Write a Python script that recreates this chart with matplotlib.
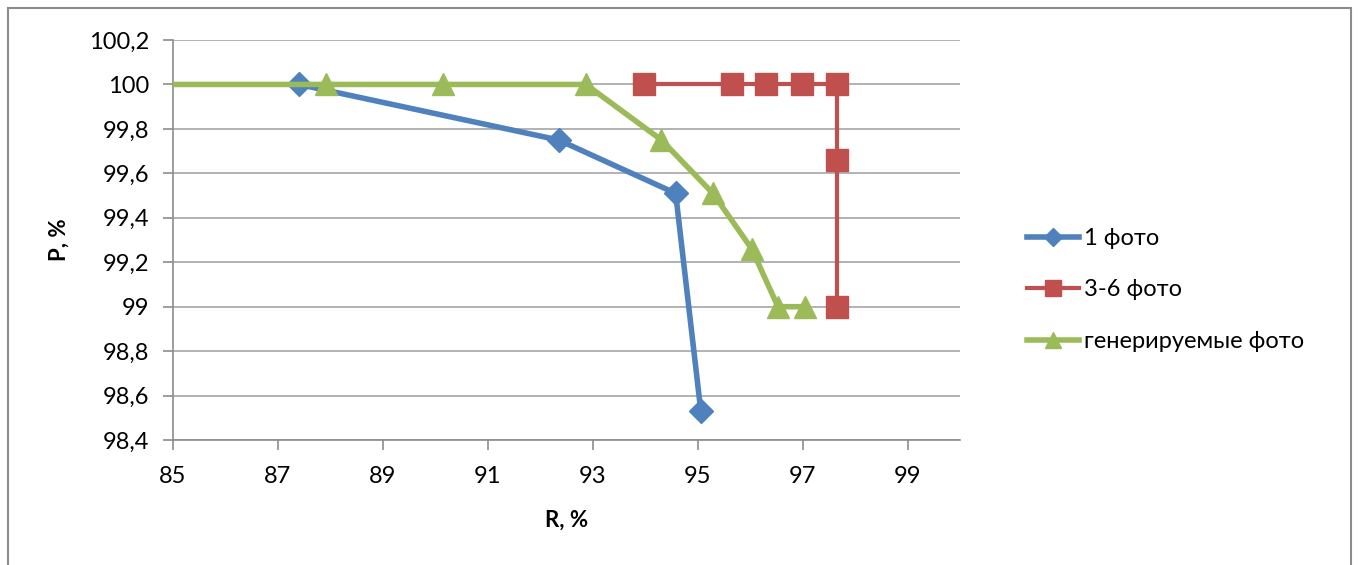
import matplotlib.pyplot as plt
from matplotlib.patches import Rectangle
from matplotlib.ticker import FuncFormatter, MultipleLocator

plt.rcParams['font.family'] = ['Lato', 'DejaVu Sans']

# 1 фото
r_one = [87.4, 92.35, 94.58, 95.06]
p_one = [100.0, 99.75, 99.51, 98.53]

# 3-6 фото
r_multi = [93.97, 95.65, 96.31, 96.98, 97.66, 97.66, 97.66]
p_multi = [100.0, 100.0, 100.0, 100.0, 100.0, 99.66, 99.0]

# генерируемые фото (первая точка левее оси, линия обрезается)
r_gen = [84.0, 87.91, 90.14, 92.87, 94.31, 95.29, 96.03, 96.53, 97.04]
p_gen = [100.0, 100.0, 100.0, 100.0, 99.75, 99.51, 99.26, 99.0, 99.0]

labels = ['1 фото', '3-6 фото', 'генерируемые фото']
x_ticks = [85, 87, 89, 91, 93, 95, 97, 99]

W, H = 1358, 565
fig = plt.figure(figsize=(W / 100, H / 100), dpi=100)
ax = fig.add_axes([173 / W, 1 - 440 / H, (960 - 173) / W, 400 / H])

# рамка вокруг всей диаграммы
fig.patches.append(Rectangle((8 / W, -0.05), (1351 - 8) / W, 1.05 - 8 / H,
                             transform=fig.transFigure, fill=False,
                             edgecolor='#8c8c8c', linewidth=1.5))

ax.plot(r_one, p_one, color='#4F81BD', lw=4, marker='D', ms=12,
        label=labels[0], zorder=3)
ax.plot(r_multi, p_multi, color='#C0504D', lw=3, marker='s', ms=16,
        label=labels[1], zorder=3)
ax.plot(r_gen, p_gen, color='#9BBB59', lw=4, marker='^', ms=16,
        label=labels[2], zorder=3)

ax.set_xlim(85, 100)
ax.set_ylim(98.4, 100.2)
ax.set_xticks(x_ticks)
ax.yaxis.set_major_locator(MultipleLocator(0.2))

comma = FuncFormatter(lambda v, pos: ('%g' % round(v, 2)).replace('.', ','))
ax.xaxis.set_major_formatter(comma)
ax.yaxis.set_major_formatter(comma)

ax.grid(axis='y', color='#a6a6a6', lw=1.2)
ax.set_axisbelow(True)
for s in ['top', 'right']:
    ax.spines[s].set_visible(False)
for s in ['left', 'bottom']:
    ax.spines[s].set_color('#8c8c8c')
    ax.spines[s].set_linewidth(1.2)
ax.tick_params(colors='#8c8c8c', labelcolor='black', length=7, width=1.2,
               labelsize=17, pad=10)
ax.tick_params(axis='x', pad=12)

ax.set_xlabel('R, %', fontsize=16, fontweight='bold', labelpad=16)
ax.set_ylabel('P, %', fontsize=16, fontweight='bold', labelpad=14)

ax.legend(loc='center left', bbox_to_anchor=(1006 / W, 1 - 290 / H),
          bbox_transform=fig.transFigure, frameon=False, fontsize=17,
          handlelength=2.2, handletextpad=0.2, labelspacing=1.3,
          markerscale=0.75)

fig.savefig('out.png', dpi=100)
